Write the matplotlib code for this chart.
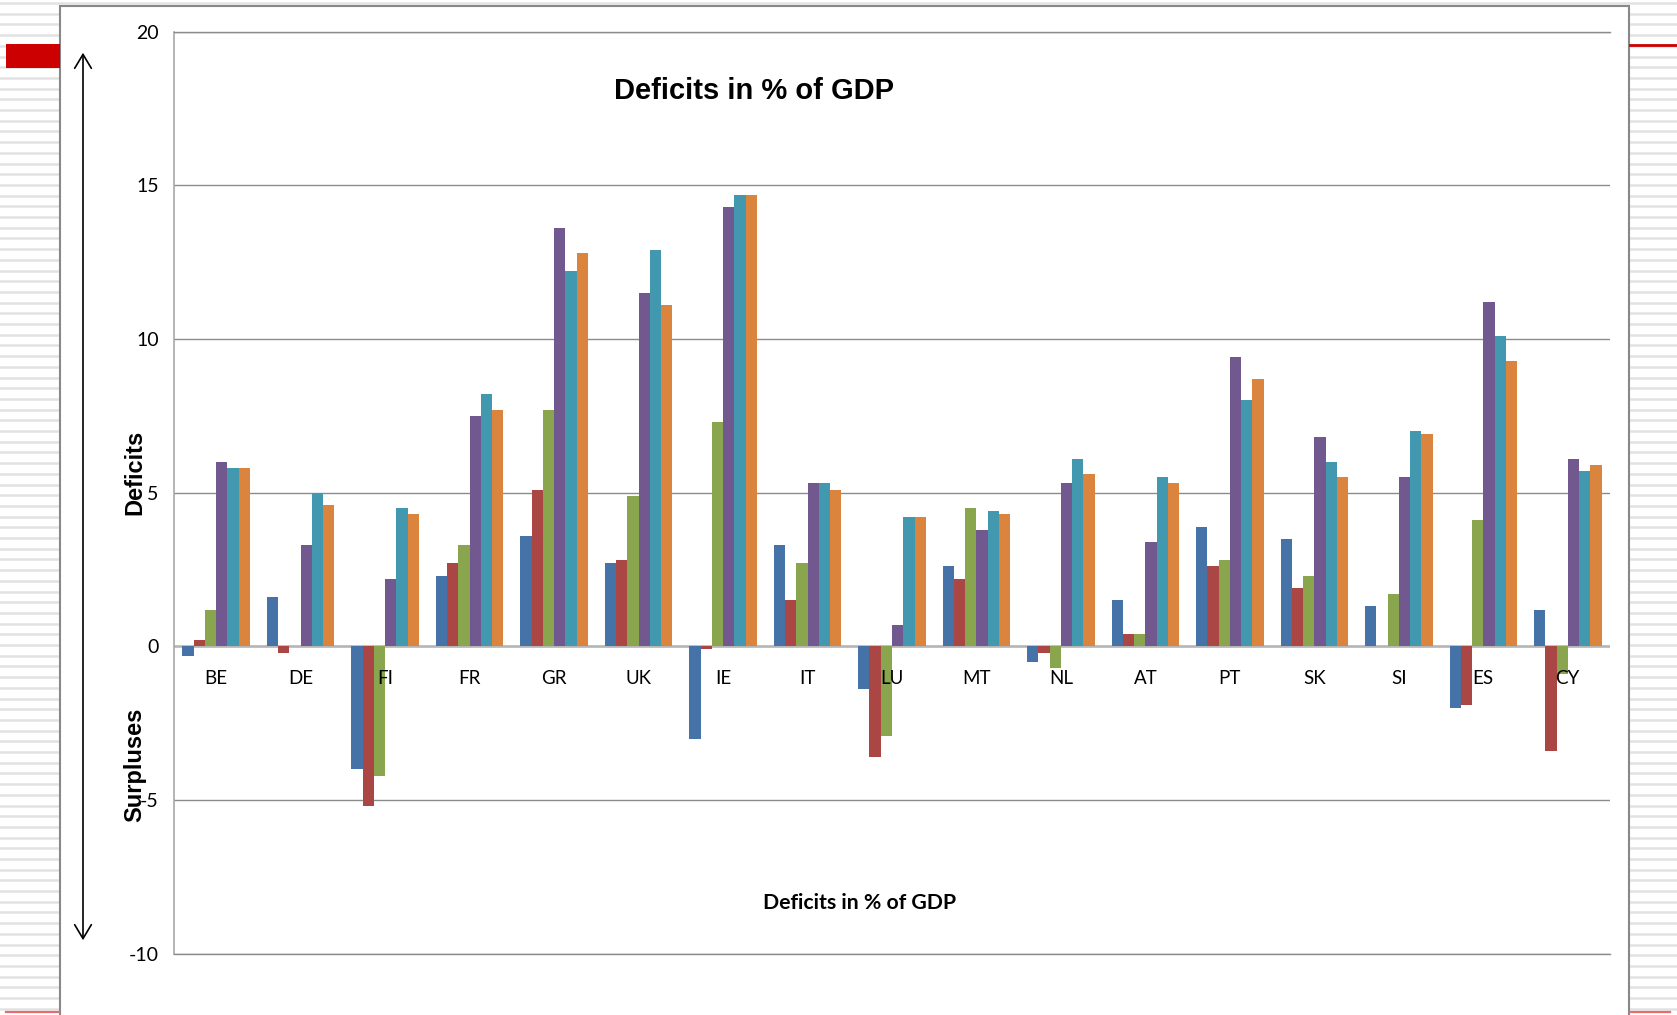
import numpy as np
import matplotlib
matplotlib.use('Agg')
import matplotlib.pyplot as plt
from matplotlib.patches import Rectangle
from matplotlib.lines import Line2D

# data (deficit in % of GDP, negative = surplus)
countries = ['BE', 'DE', 'FI', 'FR', 'GR', 'UK', 'IE', 'IT', 'LU', 'MT', 'NL', 'AT', 'PT', 'SK', 'SI', 'ES', 'CY']
series_1 = [-0.3, 1.6, -4.0, 2.3, 3.6, 2.7, -3.0, 3.3, -1.4, 2.6, -0.5, 1.5, 3.9, 3.5, 1.3, -2.0, 1.2]
series_2 = [0.2, -0.2, -5.2, 2.7, 5.1, 2.8, -0.1, 1.5, -3.6, 2.2, -0.2, 0.4, 2.6, 1.9, 0.0, -1.9, -3.4]
series_3 = [1.2, 0.0, -4.2, 3.3, 7.7, 4.9, 7.3, 2.7, -2.9, 4.5, -0.7, 0.4, 2.8, 2.3, 1.7, 4.1, -0.9]
series_4 = [6.0, 3.3, 2.2, 7.5, 13.6, 11.5, 14.3, 5.3, 0.7, 3.8, 5.3, 3.4, 9.4, 6.8, 5.5, 11.2, 6.1]
series_5 = [5.8, 5.0, 4.5, 8.2, 12.2, 12.9, 14.7, 5.3, 4.2, 4.4, 6.1, 5.5, 8.0, 6.0, 7.0, 10.1, 5.7]
series_6 = [5.8, 4.6, 4.3, 7.7, 12.8, 11.1, 14.7, 5.1, 4.2, 4.3, 5.6, 5.3, 8.7, 5.5, 6.9, 9.3, 5.9]
all_series = [series_1, series_2, series_3, series_4, series_5, series_6]
colors = ['#4572A7', '#AA4643', '#89A54E', '#71588F', '#4198AF', '#DB843D']
yticks = [-10, -5, 0, 5, 10, 15, 20]

W, H = 1677, 1015
fig = plt.figure(figsize=(W / 100, H / 100), dpi=100)

# slide background: striped margins, white chart frame, red accents
bg = fig.add_axes([0, 0, 1, 1])
bg.set_xlim(0, W)
bg.set_ylim(H, 0)
bg.axis('off')
for y in np.arange(3, H, 10.7):
    bg.add_line(Line2D([0, W], [y, y], color='#e2e2e2', lw=1.8, zorder=1))
bg.add_patch(Rectangle((60, 6), 1569, 1020, facecolor='white', edgecolor='#888888', lw=1.5, zorder=3))
bg.add_patch(Rectangle((6, 44), 54, 24, facecolor='#CC0000', edgecolor='none', zorder=3))
bg.add_line(Line2D([1630, W], [44.5, 44.5], color='#CC0000', lw=2, zorder=3))
bg.add_line(Line2D([6, 59], [1012, 1012], color='#E07070', lw=1.6, zorder=3))
bg.add_line(Line2D([1630, 1670], [1012, 1012], color='#E07070', lw=1.6, zorder=3))

# double arrow deficits / surpluses
bg.annotate('', xy=(83, 50), xytext=(83, 943),
            arrowprops=dict(arrowstyle='<->,head_length=0.5,head_width=0.3',
                            mutation_scale=20, color='black', lw=1.2), zorder=4)

ax = fig.add_axes([174 / W, 1 - 953.8 / H, 1436 / W, 922.2 / H])
x = np.arange(len(countries))
w = 1 / 7.5
for i in range(len(all_series)):
    ax.bar(x + (i - 2.5) * w, all_series[i], w, color=colors[i], zorder=3)

ax.set_xlim(-0.5, len(countries) - 0.5)
ax.set_ylim(-10, 20)
ax.set_yticks(yticks)
ax.set_yticklabels([str(v) for v in yticks], fontsize=14, family='Lato')
ax.tick_params(axis='y', length=0, pad=11)
ax.set_xticks([])
ax.grid(axis='y', color='#8c8c8c', lw=1, zorder=0)
ax.axhline(0, color='#b5b5b5', lw=1.8, zorder=2)
ax.spines['right'].set_visible(False)
for s in ['top', 'bottom']:
    ax.spines[s].set_color('#8c8c8c')
    ax.spines[s].set_linewidth(1)
ax.spines['left'].set_color('#a8a8a8')
ax.spines['left'].set_linewidth(1.2)

for i in range(len(countries)):
    ax.text(x[i], -1.06, countries[i], ha='center', va='center', fontsize=13.5, family='Lato', zorder=5)

fig.text(754 / W, 1 - 91 / H, 'Deficits in % of GDP', ha='center', va='center',
         fontsize=21, fontweight='bold', family='Liberation Sans')
fig.text(860 / W, 1 - 903 / H, 'Deficits in % of GDP', ha='center', va='center',
         fontsize=15.3, fontweight='bold', family='Lato')
fig.text(135 / W, 1 - 472 / H, 'Deficits', ha='center', va='center', rotation=90,
         fontsize=17, fontweight='bold', family='Liberation Sans')
fig.text(135 / W, 1 - 765 / H, 'Surpluses', ha='center', va='center', rotation=90,
         fontsize=17, fontweight='bold', family='Liberation Sans')

fig.savefig('out.png', dpi=100)
